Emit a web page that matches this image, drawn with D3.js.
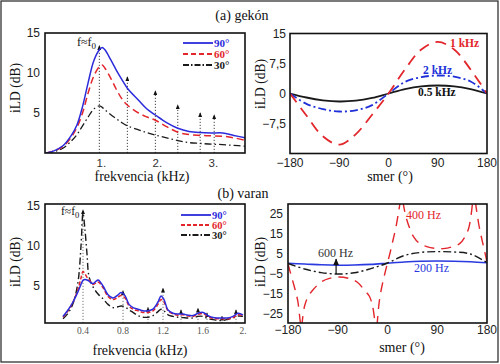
<!DOCTYPE html>
<html><head><meta charset="utf-8">
<script src="https://cdn.jsdelivr.net/npm/d3@7"></script>
<style>body{margin:0;background:#fff}svg{display:block}</style>
</head><body><svg id="c" width="500" height="364"></svg>
<script>
// ---------- DATA ----------
// (a) gekon, frequency response
const gekoFreq = [0.05,0.2,0.35,0.5,0.6,0.7,0.8,0.9,1.0,1.05,1.1,1.2,1.3,1.4,1.5,1.7,1.85,2.0,2.2,2.4,2.6,2.8,3.0,3.2,3.4,3.6];
const geko90 =   [0,0.3,0.9,2.2,3.5,5.8,8.8,11.5,12.9,13.2,12.9,11.7,10.4,9.2,8.1,6.6,5.5,4.75,3.8,3.1,2.7,2.55,2.5,2.5,2.2,1.9];
const geko60 =   [0,0.3,0.8,2.0,3.2,5.0,7.5,9.6,10.8,11.0,10.6,9.4,8.0,6.8,6.0,5.0,4.5,4.1,3.3,2.6,2.3,2.2,2.15,2.1,1.9,1.6];
const geko30 =   [0,0.2,0.6,1.5,2.3,3.4,4.5,5.5,5.9,5.7,5.4,4.8,4.3,3.8,3.4,2.9,2.55,2.25,1.9,1.55,1.3,1.2,1.1,1.05,0.95,0.85];
const gekoArrowF = [1.0,1.5,2.0,2.4,2.8,3.05];
const gekoArrowTop = [13.4,9.5,7.75,6.0,5.0,4.75];
const gekoXTicks = [1,2,3];
const gekoXTickLabels = ["1.","2.","3."];
const gekoYTicks = [5,10,15];

// (a) gekon, direction
const dirAngles = [-180,-150,-120,-90,-60,-30,0,30,60,90,120,150,180];
const geko1k  = [0,-5.5,-10.7,-12.8,-10.2,-5.3,0,6,11,12.9,11,6,0];
const geko2k  = [0,-2.6,-3.9,-4.5,-4.2,-2.9,0,2.9,4.1,4.5,4.2,3.0,0];
const geko05k = [0,-1.0,-1.7,-2.0,-1.8,-1.1,0,1.1,1.8,2.0,1.8,1.1,0];
const dirXTicks = [-180,-90,0,90,180];
const gekoDirYTicks = [15,7.5,0,-7.5];
const gekoDirYLabels = ["15","7,5","0","\u22127,5"];

// (b) varan, frequency response
const varanFreq = [0.2,0.25,0.3,0.35,0.38,0.4,0.42,0.44,0.46,0.5,0.55,0.6,0.65,0.7,0.75,0.78,0.82,0.86,0.9,0.95,1.0,1.05,1.1,1.15,1.18,1.21,1.25,1.3,1.35,1.4,1.45,1.5,1.55,1.6,1.65,1.7,1.75,1.8,1.85,1.9,1.95,2.0];
const varan90 = [1.2,2.0,3.0,4.3,5.2,5.7,5.8,5.75,5.6,5.3,5.75,5.0,3.9,3.5,3.9,4.2,3.8,2.7,2.3,2.1,1.9,1.9,2.1,3.0,3.75,3.3,2.0,1.6,1.5,1.5,1.35,1.3,1.6,1.7,1.3,1.05,1.0,1.0,1.0,1.2,1.6,1.4];
const varan60 = [1.1,1.9,3.0,4.6,6.0,6.8,6.5,6.1,5.8,5.2,5.5,4.8,3.7,3.3,3.6,3.8,3.5,2.5,2.1,1.9,1.7,1.7,1.9,2.7,3.3,3.0,1.9,1.5,1.35,1.4,1.25,1.2,1.45,1.55,1.2,0.95,0.9,0.9,0.9,1.05,1.4,1.3];
const varan30 = [0.9,1.6,2.8,5.5,10,14.1,12,9,6.2,4.9,4.0,3.4,2.7,2.3,2.4,2.5,2.4,2.0,1.7,1.3,1.1,1.1,1.3,1.8,2.1,1.9,1.4,1.2,1.1,1.05,1.0,1.0,1.2,1.2,0.9,0.8,0.7,0.7,0.85,1.0,1.25,1.2];
const varanArrowF = [0.4,0.8,1.05,1.2,1.38,1.55,1.64,1.79,1.93];
const varanArrowTop = [14.5,4.4,2.3,4.7,2.0,2.2,1.6,1.2,2.0];
const varanXTicks = [0.4,0.8,1.2,1.6,2.0];
const varanXTickLabels = ["0.4","0.8","1.2","1.6","2."];
const varanYTicks = [5,10,15];

// (b) varan, direction
const varan200 = [0.3,0.0,-0.4,-0.6,-0.5,-0.2,0.4,1.0,1.4,1.5,1.4,1.1,0.6];
const varan600 = [0.3,-2.5,-4.3,-5.0,-4.4,-2.3,0.5,4.2,5.8,6.2,6.0,5.0,0.7];
// 400 Hz: discontinuous branches (angle, value)
const varan400Branches = [
  [[-180,0],[-172,-8],[-166,-14],[-162,-19],[-159,-26],[-157,-31]],
  [[-155,-31],[-150,-21],[-143,-16],[-135,-13],[-120,-9],[-105,-7.2],[-88,-6.5],[-70,-7.2],[-55,-9],[-42,-13],[-33,-16],[-27,-21],[-22,-31]],
  [[-19,-31],[-15,-19],[-10,-11],[-5,-5],[0,0.5],[5,6],[10,12],[15,18],[20,26],[23,31]],
  [[28,31],[33,24],[40,18],[47,13.7],[57,10.5],[71,8.7],[86,7.8],[101,7.7],[116,8.5],[131,10.3],[141,14],[147,18],[151,24],[154,31]],
  [[159,31],[165,20],[171,12],[176,6],[180,1]]
];
const varanDirYTicks = [25,15,5,-5,-15,-25];

// ---------- DRAWING ----------
const svg = d3.select("#c");
const SERIF = "'Liberation Serif', 'DejaVu Serif', serif";
const SANS = "'Liberation Sans', Arial, sans-serif";
const BLUE = "#2b2bdc", RED = "#e2262b", BLACK = "#1a1a1a";

svg.append("rect").attr("x",1).attr("y",1).attr("width",497).attr("height",361)
  .attr("fill","none").attr("stroke","#222").attr("stroke-width",1.2);

const defs = svg.append("defs");
defs.append("marker").attr("id","arr").attr("viewBox","0 0 6 6").attr("refX",3).attr("refY",1)
  .attr("markerWidth",4).attr("markerHeight",5).attr("orient","0")
  .attr("markerUnits","userSpaceOnUse").attr("preserveAspectRatio","none")
  .append("path").attr("d","M0,6 L3,0 L6,6 Z").attr("fill","#111");
defs.append("marker").attr("id","arrBig").attr("viewBox","0 0 6 6").attr("refX",3).attr("refY",0.5)
  .attr("markerWidth",6).attr("markerHeight",7).attr("orient","0")
  .attr("markerUnits","userSpaceOnUse").attr("preserveAspectRatio","none")
  .append("path").attr("d","M0,6 L3,0 L6,6 Z").attr("fill","#111");

function panel(id, x, y) {
  const [x0,x1] = x.range(), [y1,y0] = y.range();
  defs.append("clipPath").attr("id",id).append("rect")
    .attr("x",x0).attr("y",y0).attr("width",x1-x0).attr("height",y1-y0);
  const g = svg.append("g");
  const plot = g.append("g").attr("clip-path",`url(#${id})`);
  return {g, plot, frame: () => g.append("rect").attr("x",x0).attr("y",y0)
      .attr("width",x1-x0).attr("height",y1-y0).attr("fill","none")
      .attr("stroke","#111").attr("stroke-width",1.6)};
}

function text(t, x, y, o={}) {
  const el = svg.append("text").attr("x",x).attr("y",y).text(t)
    .attr("font-family",o.family||SERIF).attr("font-size",o.size||13)
    .attr("fill",o.fill||"#111").attr("text-anchor",o.anchor||"middle")
    .attr("font-weight",o.weight||"normal");
  if (o.len) el.attr("textLength",o.len).attr("lengthAdjust","spacingAndGlyphs");
  if (o.rotate) el.attr("transform",`rotate(-90,${x},${y})`);
  return el;
}

function lineOf(x, y, xs, ys, curve) {
  return d3.line().x((d,i)=>x(xs[i])).y(d=>y(d)).curve(curve||d3.curveCatmullRom.alpha(0.5))(ys);
}

function fEqF0(x, y, size) {
  const t = svg.append("text").attr("x",x).attr("y",y).attr("font-family",SERIF)
    .attr("font-size",size).attr("fill","#111");
  t.append("tspan").text("f\u2248f");
  t.append("tspan").text("0").attr("font-size",size*0.75).attr("dy",3);
}

// ===== Panel (a) left =====
{
  const x = d3.scaleLinear().domain([0.03,3.6]).range([45,245]);
  const y = d3.scaleLinear().domain([0,15]).range([153,33]);
  const p = panel("cA1", x, y);
  gekoArrowF.forEach((f,i)=>{
    p.plot.append("line").attr("x1",x(f)).attr("x2",x(f)).attr("y1",y(0)).attr("y2",y(gekoArrowTop[i]))
      .attr("stroke","#444").attr("stroke-width",1).attr("stroke-dasharray","1.2,1.8")
      .attr("marker-end","url(#arr)");
  });
  p.plot.append("path").attr("d",lineOf(x,y,gekoFreq,geko30)).attr("fill","none")
    .attr("stroke",BLACK).attr("stroke-width",1.3).attr("stroke-dasharray","7,3,1.5,3");
  p.plot.append("path").attr("d",lineOf(x,y,gekoFreq,geko60)).attr("fill","none")
    .attr("stroke",RED).attr("stroke-width",1.5).attr("stroke-dasharray","7,4");
  p.plot.append("path").attr("d",lineOf(x,y,gekoFreq,geko90)).attr("fill","none")
    .attr("stroke",BLUE).attr("stroke-width",1.5);
  p.frame();
  gekoYTicks.forEach(v=>text(String(v), 40, y(v)+4, {family:SANS,size:12,anchor:"end",fill:"#222"}));
  gekoXTicks.forEach((v,i)=>text(gekoXTickLabels[i], x(v)+2, 167, {family:SANS,size:11.5,fill:"#333"}));
  text("iLD (dB)", 20, 88, {rotate:true, size:14, len:50});
  text("frekvencia (kHz)", 142, 181, {size:14, len:95});
  fEqF0(77, 46, 12);
  [["90°",BLUE,null,43],["60°",RED,"5,3",54],["30°",BLACK,"6,2,1.5,2",65]].forEach(([t,c,da,ly])=>{
    svg.append("line").attr("x1",183).attr("x2",213).attr("y1",ly).attr("y2",ly)
      .attr("stroke",c).attr("stroke-width",1.8).attr("stroke-dasharray",da);
    text(t, 214, ly+4, {anchor:"start", size:11, weight:"bold", fill:c});
  });
}

// ===== Panel (a) right =====
{
  const x = d3.scaleLinear().domain([-180,180]).range([290,487]);
  const y = d3.scaleLinear().domain([-15,15]).range([153.5,33.5]);
  const p = panel("cA2", x, y);
  p.plot.append("path").attr("d",lineOf(x,y,dirAngles,geko05k)).attr("fill","none")
    .attr("stroke",BLACK).attr("stroke-width",1.8);
  p.plot.append("path").attr("d",lineOf(x,y,dirAngles,geko2k)).attr("fill","none")
    .attr("stroke","#2030d8").attr("stroke-width",1.8).attr("stroke-dasharray","8,3,2,3");
  p.plot.append("path").attr("d",lineOf(x,y,dirAngles,geko1k)).attr("fill","none")
    .attr("stroke",RED).attr("stroke-width",1.8).attr("stroke-dasharray","11,7");
  p.frame();
  gekoDirYTicks.forEach((v,i)=>text(gekoDirYLabels[i], 286, y(v)+4, {family:SANS,size:12,anchor:"end",fill:"#222"}));
  dirXTicks.forEach(v=>text(v<0?"\u2212"+(-v):String(v), x(v), 167, {family:SANS,size:12,fill:"#222"}));
  text("iLD (dB)", 265, 84, {rotate:true, size:14, len:50});
  text("smer (°)", 390, 181, {size:14});
  text("1 kHz", 450, 47, {anchor:"start", size:11.5, weight:"bold", fill:RED});
  text("2 kHz", 423, 74, {anchor:"start", size:11.5, weight:"bold", fill:"#2030d8"});
  text("0.5 kHz", 418, 96, {anchor:"start", size:11.5, weight:"bold", fill:"#111"});
}

// ===== Panel (b) left =====
{
  const x = d3.scaleLinear().domain([0.02,2.02]).range([45,245]);
  const y = d3.scaleLinear().domain([0.375,15.25]).range([323,204]);
  const p = panel("cB1", x, y);
  varanArrowF.forEach((f,i)=>{
    p.plot.append("line").attr("x1",x(f)).attr("x2",x(f)).attr("y1",y(0.375)).attr("y2",y(varanArrowTop[i]))
      .attr("stroke","#777").attr("stroke-width",1).attr("stroke-dasharray","1.2,1.8")
      .attr("marker-end","url(#arr)");
  });
  p.plot.append("path").attr("d",lineOf(x,y,varanFreq,varan30)).attr("fill","none")
    .attr("stroke",BLACK).attr("stroke-width",1.4).attr("stroke-dasharray","7,3,1.5,3");
  p.plot.append("path").attr("d",lineOf(x,y,varanFreq,varan60)).attr("fill","none")
    .attr("stroke",RED).attr("stroke-width",1.5).attr("stroke-dasharray","4,2");
  p.plot.append("path").attr("d",lineOf(x,y,varanFreq,varan90)).attr("fill","none")
    .attr("stroke",BLUE).attr("stroke-width",1.5);
  p.frame();
  varanYTicks.forEach(v=>text(String(v), 40, y(v)+4, {family:SANS,size:12,anchor:"end",fill:"#222"}));
  varanXTicks.forEach((v,i)=>text(varanXTickLabels[i], x(v), 334, {size:9.5,fill:"#555"}));
  text("iLD (dB)", 20, 262, {rotate:true, size:14, len:50});
  text("frekvencia (kHz)", 140, 355, {size:14, len:95});
  fEqF0(61, 215, 11.5);
  [["90°",BLUE,null,215],["60°",RED,"4,2",225],["30°",BLACK,"6,2,1.5,2",235]].forEach(([t,c,da,ly])=>{
    svg.append("line").attr("x1",181).attr("x2",211).attr("y1",ly).attr("y2",ly)
      .attr("stroke",c).attr("stroke-width",1.8).attr("stroke-dasharray",da);
    text(t, 212, ly+3.5, {anchor:"start", size:10.5, weight:"bold", fill:c});
  });
}

// ===== Panel (b) right =====
{
  const x = d3.scaleLinear().domain([-180,180]).range([288,487]);
  const y = d3.scaleLinear().domain([-29.5,30]).range([323,204]);
  const p = panel("cB2", x, y);
  p.plot.append("path").attr("d",lineOf(x,y,dirAngles,varan200)).attr("fill","none")
    .attr("stroke","#2a3ae0").attr("stroke-width",1.6);
  p.plot.append("path").attr("d",lineOf(x,y,dirAngles,varan600)).attr("fill","none")
    .attr("stroke",BLACK).attr("stroke-width",1.4).attr("stroke-dasharray","8,3,2,3");
  varan400Branches.forEach(b=>{
    p.plot.append("path").attr("d",d3.line().x(d=>x(d[0])).y(d=>y(d[1])).curve(d3.curveCatmullRom.alpha(0.5))(b))
      .attr("fill","none").attr("stroke",RED).attr("stroke-width",1.4).attr("stroke-dasharray","10,7");
  });
  p.plot.append("line").attr("x1",x(-93)).attr("x2",x(-93)).attr("y1",y(-5)).attr("y2",y(2.5))
    .attr("stroke","#111").attr("stroke-width",1.2).attr("marker-end","url(#arrBig)");
  p.frame();
  varanDirYTicks.forEach(v=>text(v<0?"\u2212"+(-v):String(v), 283, y(v)+4, {family:SANS,size:12,anchor:"end",fill:"#222"}));
  dirXTicks.forEach(v=>text(v<0?"\u2212"+(-v):String(v), x(v), 334, {family:SANS,size:12,fill:"#222"}));
  text("iLD (dB)", 265, 262, {rotate:true, size:14, len:50});
  text("smer (°)", 402, 352, {size:14});
  text("400 Hz", 406, 219, {anchor:"start", size:12, fill:RED});
  text("600 Hz", 318, 257, {anchor:"start", size:12, fill:"#333"});
  text("200 Hz", 414, 272, {anchor:"start", size:12, fill:"#2a3ae0"});
}

// titles
text("(a) gekón", 242, 20, {size:14});
text("(b) varan", 243, 198, {size:14});
</script></body></html>
